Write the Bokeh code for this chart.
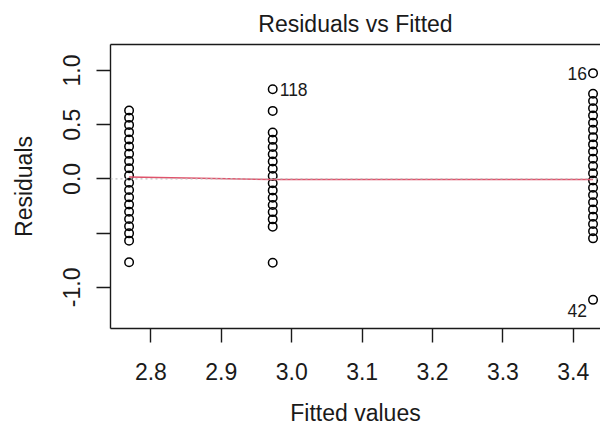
from bokeh.plotting import figure
from bokeh.models import ColumnDataSource, Span, FixedTicker, LinearAxis, Range1d
from bokeh.embed import file_html
from bokeh.resources import INLINE

# ---------------- data ----------------
fitted_levels = [2.769, 2.973, 3.428]
resid_low = [0.631, 0.564, 0.498, 0.431, 0.364, 0.298, 0.231, 0.164, 0.098, 0.031,
             -0.036, -0.102, -0.169, -0.236, -0.302, -0.369, -0.436, -0.502, -0.569,
             -0.769]
resid_mid = [0.827, 0.627, 0.427, 0.360, 0.294, 0.227, 0.160, 0.094, 0.027, -0.040,
             -0.106, -0.173, -0.240, -0.306, -0.373, -0.440, -0.773]
resid_high = [0.975, 0.785, 0.718, 0.652, 0.585, 0.518, 0.452, 0.385, 0.318, 0.252,
              0.185, 0.118, 0.052, -0.015, -0.082, -0.148, -0.215, -0.282, -0.348,
              -0.415, -0.482, -0.548, -1.115]
lowess_fit = [0.018, -0.006, -0.006]
id_labels = ["118", "16", "42"]
id_fitted = [2.973, 3.428, 3.428]
id_resid = [0.827, 0.975, -1.115]
x_ticks = [2.8, 2.9, 3.0, 3.1, 3.2, 3.3, 3.4]
x_tick_labels = ["2.8", "2.9", "3.0", "3.1", "3.2", "3.3", "3.4"]
y_ticks = [-1.0, -0.5, 0.0, 0.5, 1.0]
y_tick_labels = ["-1.0", "", "0.0", "0.5", "1.0"]

# ---------------- styles ----------------
FONT = "Liberation Sans"
FS = "23px"
INK = "#1a1a1a"
label_align = ["left", "right", "right"]
label_dx = [7, -6, -6]
label_dy = [0, 0, 11]

# ---------------- build sources ----------------
pts_x = ([fitted_levels[0]] * len(resid_low) + [fitted_levels[1]] * len(resid_mid)
         + [fitted_levels[2]] * len(resid_high))
pts_y = resid_low + resid_mid + resid_high
pts = ColumnDataSource(dict(x=pts_x, y=pts_y))
ids = ColumnDataSource(dict(x=id_fitted, y=id_resid, t=id_labels, align=label_align,
                            dx=label_dx, dy=label_dy))

p = figure(width=600, height=430, output_backend="svg", toolbar_location=None,
           x_range=Range1d(2.7426, 3.4386), y_range=Range1d(-1.379, 1.239),
           min_border_left=110, min_border_right=0, min_border_top=0,
           min_border_bottom=102, background_fill_color="white",
           border_fill_color="white")
p.outline_line_color = None
p.xgrid.visible = False
p.ygrid.visible = False

# title
p.title.text = "Residuals vs Fitted"
p.title.text_font = FONT
p.title.text_font_size = FS
p.title.text_font_style = "normal"
p.title.text_color = INK
p.title.align = "center"
p.title.standoff = 16

# zero reference line (gray dotted)
p.add_layout(Span(location=0, dimension="width", line_color="#BEBEBE",
                  line_dash="2 3", line_width=1.2))

# points
p.scatter("x", "y", source=pts, marker="circle", size=8.5, fill_color=None,
          line_color="black", line_width=1.5)

# lowess smoother
p.line(fitted_levels, lowess_fit, line_color="#DF536B", line_width=1.6)

# id labels
p.text("x", "y", text="t", source=ids, text_align="align", x_offset="dx",
       y_offset="dy", text_baseline="middle", text_font_size="17.5px",
       text_font={"value": FONT}, text_color=INK)

# axes
for ax in (p.xaxis[0], p.yaxis[0]):
    ax.axis_line_color = INK
    ax.axis_line_width = 1.4
    ax.major_tick_line_color = INK
    ax.major_tick_line_width = 1.4
    ax.major_tick_in = 0
    ax.major_tick_out = 14
    ax.minor_tick_line_color = None
    ax.major_label_text_font = FONT
    ax.major_label_text_font_size = FS
    ax.major_label_text_color = INK
    ax.axis_label_text_font = FONT
    ax.axis_label_text_font_size = FS
    ax.axis_label_text_font_style = "normal"
    ax.axis_label_text_color = INK

xa = p.xaxis[0]
xa.ticker = FixedTicker(ticks=x_ticks)
xa.major_label_overrides = dict(zip(x_ticks, x_tick_labels))
xa.major_label_standoff = 20
xa.axis_label = "Fitted values"
xa.axis_label_standoff = 17

ya = p.yaxis[0]
ya.ticker = FixedTicker(ticks=y_ticks)
ya.major_label_overrides = dict(zip(y_ticks, y_tick_labels))
ya.major_label_orientation = "vertical"
ya.major_label_standoff = 16
ya.axis_label = "Residuals"
ya.axis_label_standoff = 24

# top border of the box
top = LinearAxis(ticker=FixedTicker(ticks=[]), axis_line_color=INK, axis_line_width=1.4,
                 major_tick_out=0, major_tick_in=0, minor_tick_out=0, minor_tick_in=0,
                 major_label_standoff=0, major_label_text_font_size="0px")
p.add_layout(top, "above")

open("out.html", "w").write(file_html(p, INLINE))
